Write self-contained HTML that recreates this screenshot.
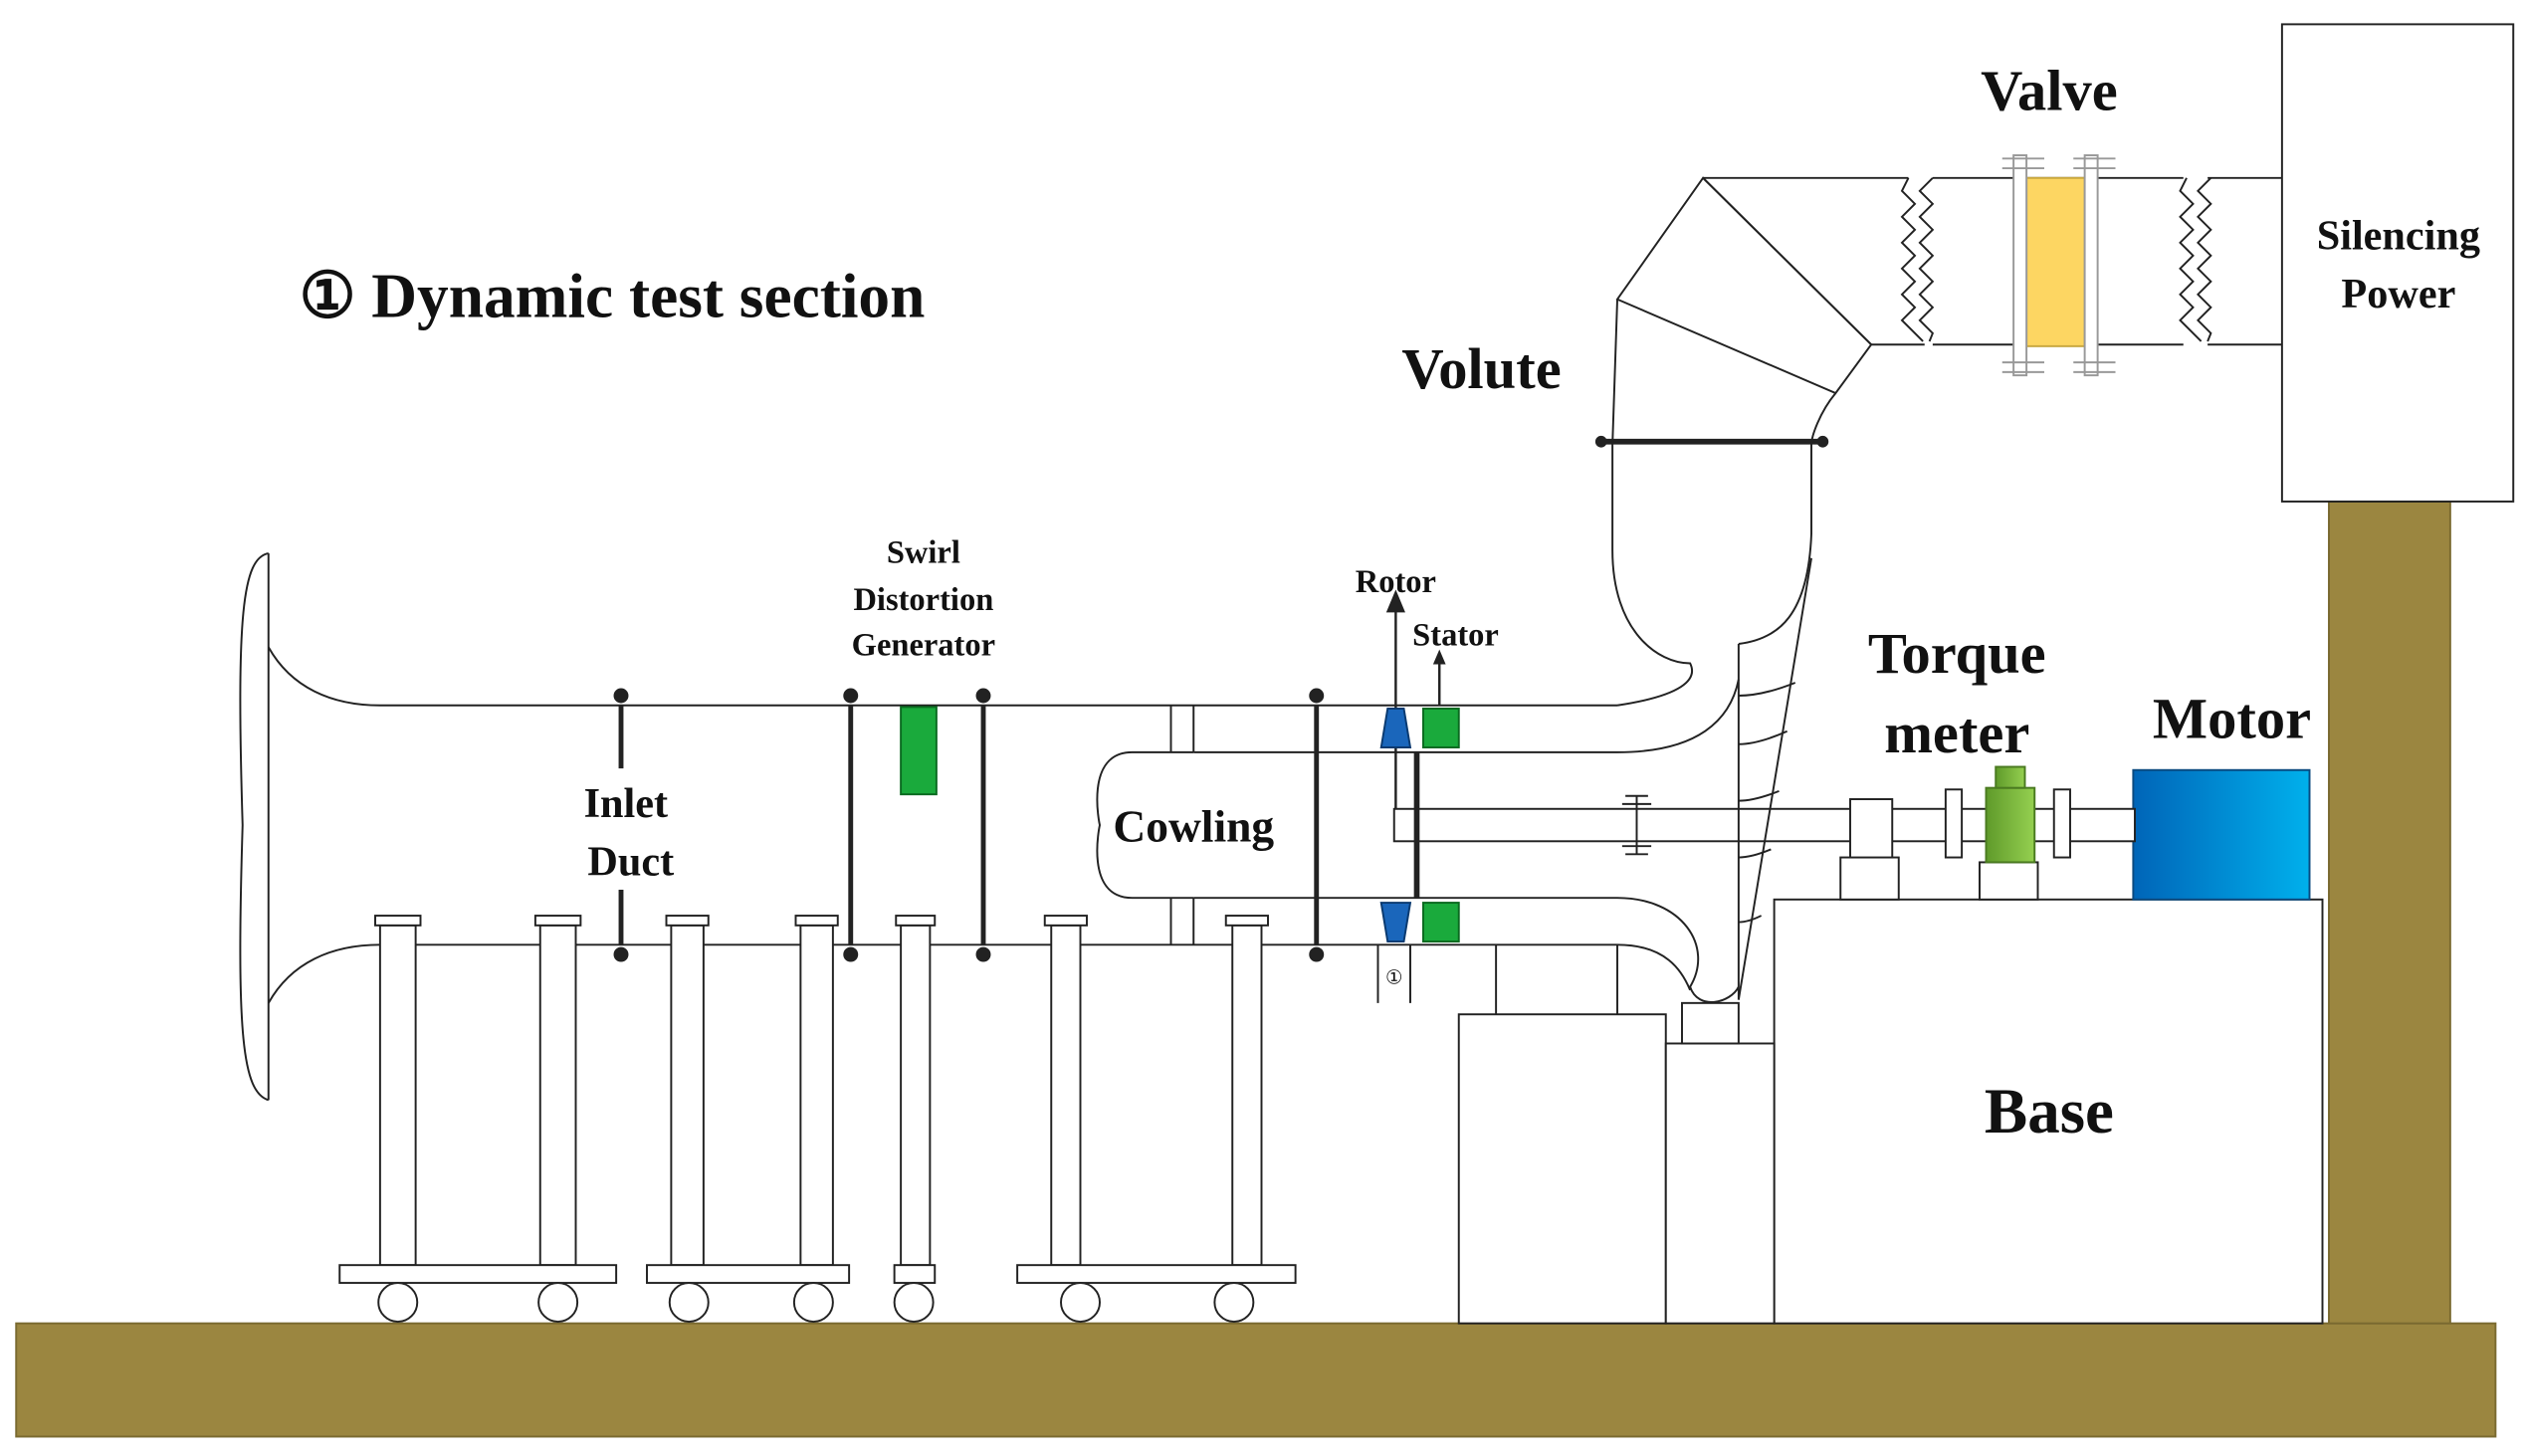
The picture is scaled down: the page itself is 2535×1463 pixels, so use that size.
<!DOCTYPE html>
<html><head><meta charset="utf-8"><style>html,body{margin:0;padding:0;background:#fff}svg{display:block}</style></head>
<body>
<svg width="2535" height="1463" viewBox="0 0 1560 900" preserveAspectRatio="none" xmlns="http://www.w3.org/2000/svg" font-family="Liberation Serif, serif" font-weight="bold">
<defs>
<linearGradient id="mot" x1="0" x2="1"><stop offset="0" stop-color="#0065b8"/><stop offset="1" stop-color="#00b0ec"/></linearGradient>
<linearGradient id="grn" x1="0" x2="1"><stop offset="0" stop-color="#5f9a2a"/><stop offset="1" stop-color="#95d050"/></linearGradient>
</defs>
<rect width="1560" height="900" fill="#fff"/>
<g stroke="#222" stroke-width="1.2" fill="none">
<rect x="10" y="818" width="1533" height="70" fill="#9b8640" stroke="#7a6a30"/>
<rect x="1440" y="310" width="75" height="508" fill="#9b8640" stroke="#7a6a30"/>
<rect x="1411" y="15" width="143" height="295" fill="#fff"/>
<rect x="1097" y="556" width="339" height="262" fill="#fff"/>
<rect x="902" y="627" width="128" height="191" fill="#fff"/>
<rect x="1030" y="645" width="67" height="173" fill="#fff"/>
<rect x="1040" y="620" width="35" height="25" fill="#fff"/>
<line x1="925" y1="584" x2="925" y2="627"/><line x1="1000" y1="584" x2="1000" y2="627"/>
<rect x="1319" y="476" width="109" height="80" fill="url(#mot)" stroke="#0a4a80"/>
<rect x="862" y="500" width="458" height="20" fill="#fff"/>
<rect x="1138" y="530" width="36" height="26" fill="#fff"/>
<rect x="1144" y="494" width="26" height="36" fill="#fff"/>
<rect x="1203" y="488" width="10" height="42" fill="#fff"/>
<rect x="1270" y="488" width="10" height="42" fill="#fff"/>
<rect x="1224" y="533" width="36" height="23" fill="#fff"/>
<rect x="1228" y="487" width="30" height="46" fill="url(#grn)" stroke="#4a7a20"/>
<rect x="1234" y="474" width="18" height="13" fill="url(#grn)" stroke="#4a7a20"/>
<path d="M1005 492 h14 M1012 492 v36 M1005 528 h14 M1003 497 h18 M1003 523 h18"/>
<line x1="1053" y1="110" x2="1180" y2="110"/><line x1="1157" y1="213" x2="1190" y2="213"/>
<line x1="1195" y1="110" x2="1350" y2="110"/><line x1="1195" y1="213" x2="1350" y2="213"/>
<line x1="1365" y1="110" x2="1411" y2="110"/><line x1="1365" y1="213" x2="1411" y2="213"/>
<path d="M1180 110 l-4 8 8 8 -8 8 8 8 -8 8 8 8 -8 8 8 8 -8 8 8 8 -8 8 8 8 5 5"/>
<path d="M1195 110 l-8 8 8 8 -8 8 8 8 -8 8 8 8 -8 8 8 8 -8 8 8 8 -8 8 8 8 -2 5"/>
<path d="M1352 110 l-4 8 8 8 -8 8 8 8 -8 8 8 8 -8 8 8 8 -8 8 8 8 -8 8 8 8 5 5"/>
<path d="M1367 110 l-8 8 8 8 -8 8 8 8 -8 8 8 8 -8 8 8 8 -8 8 8 8 -8 8 8 8 -2 5"/>
<rect x="1253" y="110" width="36" height="104" fill="#fdd662" stroke="#c9a840"/>
<rect x="1245" y="96" width="8" height="136" fill="#fff" stroke="#999"/>
<rect x="1289" y="96" width="8" height="136" fill="#fff" stroke="#999"/>
<path d="M1238 98h26M1238 104h26M1282 98h26M1282 104h26M1238 224h26M1238 230h26M1282 224h26M1282 230h26" stroke="#999"/>
<path d="M1053 110 L1000 185 L1135 243 L1157 213 Z" fill="#fff"/>
<line x1="1053" y1="110" x2="1157" y2="213"/>
<path d="M1000 185 L997 275 L997 340 C997 390 1025 410 1045 410 C1050 420 1040 430 1000 436"/>
<path d="M1135 243 C1125 255 1120 270 1120 275 L1120 330 C1118 380 1100 395 1075 398"/>
<path d="M990 273 H1127" stroke-width="3.5"/>
<circle cx="990" cy="273" r="3" fill="#222"/><circle cx="1127" cy="273" r="3" fill="#222"/>
<path d="M1000 465 C1050 465 1070 445 1075 420"/>
<line x1="1075" y1="398" x2="1075" y2="618"/>
<path d="M1120 345 L1075 618"/>
<path d="M1075 430 q15 0 35 -8 M1075 460 q12 0 30 -8 M1075 495 q10 0 25 -6 M1075 530 q8 0 20 -5 M1075 570 q6 0 14 -4"/>
<path d="M1000 555 C1040 555 1060 585 1045 610 C1050 625 1070 620 1075 610"/>
<path d="M1000 584 C1030 584 1040 600 1045 612"/>
<path d="M166 400 C180 425 205 436 235 436 L1000 436"/>
<path d="M166 620 C180 595 205 584 235 584 L1000 584"/>
<path d="M166 342 C150 345 146 380 150 510 C146 640 150 675 166 680"/>
<path d="M166 342 L166 680"/>
<path d="M738 465 L700 465 C670 465 680 510 680 510 C680 510 670 555 700 555 L738 555"/>
<path d="M738 465 H1000 M738 555 H1000"/>
<line x1="724" y1="436" x2="724" y2="465"/><line x1="738" y1="436" x2="738" y2="465"/>
<line x1="724" y1="555" x2="724" y2="584"/><line x1="738" y1="555" x2="738" y2="584"/>
<path d="M384 436 V475 M384 550 V584 M526 436 V584 M608 436 V584 M814 436 V584" stroke-width="3"/>
<path d="M876 465 V555" stroke-width="3.5"/>
<path d="M863 500 V375 M890 436 V405" stroke-width="1.5"/>
<path d="M858 378 L863 366 L868 378 Z M887 410 L890 403 L893 410 Z" fill="#222"/>
<rect x="557" y="437" width="22" height="54" fill="#1aaa3c" stroke="#0a6a20"/>
<path d="M854 462 L858 438 H868 L872 462 Z M854 558 L858 582 H868 L872 558 Z" fill="#1a66bb" stroke="#0a3a70"/>
<rect x="880" y="438" width="22" height="24" fill="#1aaa3c" stroke="#0a6a20"/>
<rect x="880" y="558" width="22" height="24" fill="#1aaa3c" stroke="#0a6a20"/>
<path d="M852 584 V620 M872 584 V620"/>
<g fill="#fff">
<rect x="235" y="572" width="22" height="210"/><rect x="232" y="566" width="28" height="6"/>
<rect x="334" y="572" width="22" height="210"/><rect x="331" y="566" width="28" height="6"/>
<rect x="415" y="572" width="20" height="210"/><rect x="412" y="566" width="26" height="6"/>
<rect x="495" y="572" width="20" height="210"/><rect x="492" y="566" width="26" height="6"/>
<rect x="557" y="572" width="18" height="210"/><rect x="554" y="566" width="24" height="6"/>
<rect x="650" y="572" width="18" height="210"/><rect x="646" y="566" width="26" height="6"/>
<rect x="762" y="572" width="18" height="210"/><rect x="758" y="566" width="26" height="6"/>
<rect x="210" y="782" width="171" height="11"/><rect x="400" y="782" width="125" height="11"/>
<rect x="553" y="782" width="25" height="11"/><rect x="629" y="782" width="172" height="11"/>
<circle cx="246" cy="805" r="12"/><circle cx="345" cy="805" r="12"/><circle cx="426" cy="805" r="12"/>
<circle cx="503" cy="805" r="12"/><circle cx="565" cy="805" r="12"/><circle cx="668" cy="805" r="12"/><circle cx="763" cy="805" r="12"/>
</g>
<g fill="#222"><circle cx="384" cy="430" r="4"/><circle cx="526" cy="430" r="4"/><circle cx="608" cy="430" r="4"/><circle cx="814" cy="430" r="4"/>
<circle cx="384" cy="590" r="4"/><circle cx="526" cy="590" r="4"/><circle cx="608" cy="590" r="4"/><circle cx="814" cy="590" r="4"/></g>
</g>
<g fill="#111" text-anchor="middle">
<text x="185" y="196" font-size="39" text-anchor="start">① Dynamic test section</text>
<text x="1267" y="68" font-size="36">Valve</text>
<text x="916" y="240" font-size="36">Volute</text>
<text x="1210" y="416" font-size="36">Torque</text>
<text x="1210" y="465" font-size="36">meter</text>
<text x="1380" y="456" font-size="36">Motor</text>
<text x="1483" y="154" font-size="26">Silencing</text>
<text x="1483" y="190" font-size="26">Power</text>
<text x="1267" y="700" font-size="40">Base</text>
<text x="571" y="348" font-size="20">Swirl</text>
<text x="571" y="377" font-size="20">Distortion</text>
<text x="571" y="405" font-size="20">Generator</text>
<text x="863" y="366" font-size="20">Rotor</text>
<text x="900" y="399" font-size="20">Stator</text>
<text x="387" y="505" font-size="26">Inlet</text>
<text x="390" y="541" font-size="26">Duct</text>
<text x="738" y="520" font-size="28">Cowling</text>
<text x="862" y="608" font-size="12" font-weight="normal">①</text>
</g>
</svg>
</body></html>
